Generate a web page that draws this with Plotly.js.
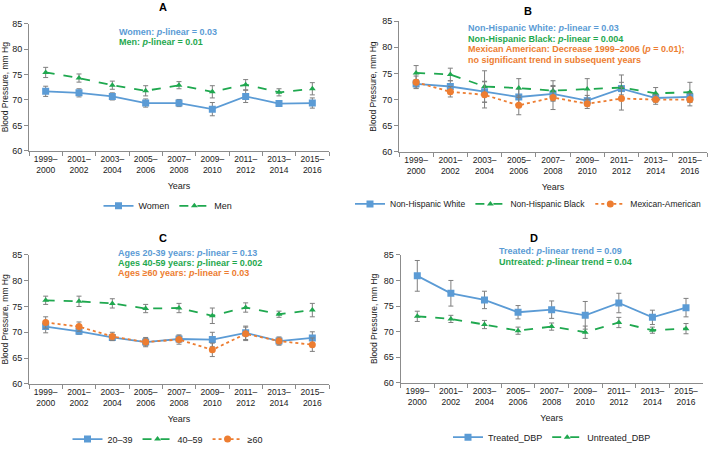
<!DOCTYPE html>
<html>
<head>
<meta charset="utf-8">
<script src="https://cdn.plot.ly/plotly-3.0.1.min.js"></script>
<style>html,body{margin:0;padding:0;background:#fff;}#chart{width:709px;height:454px;}</style>
</head>
<body>
<div id="chart"></div>
<script>
// ---- data ----
const years = ["1999–<br>2000","2001–<br>2002","2003–<br>2004","2005–<br>2006","2007–<br>2008","2009–<br>2010","2011–<br>2012","2013–<br>2014","2015–<br>2016"];

// Panel A: sex
const women = [71.7, 71.4, 70.7, 69.4, 69.4, 68.2, 70.7, 69.3, 69.4];
const womenErr = [1.0, 0.8, 0.7, 0.8, 0.7, 1.3, 1.2, 0.5, 1.0];
const men = [75.4, 74.3, 72.9, 71.8, 72.9, 71.6, 73.0, 71.5, 72.2];
const menErr = [1.0, 0.8, 0.8, 1.0, 0.7, 1.2, 1.0, 0.7, 1.2];

// Panel B: race/ethnicity
const nhWhite = [73.0, 72.5, 71.5, 70.5, 71.1, 69.8, 72.1, 70.3, 70.5];
const nhWhiteErr = [0.8, 1.1, 2.0, 1.5, 1.4, 1.0, 1.2, 0.8, 1.0];
const nhBlack = [75.1, 74.8, 72.5, 72.2, 71.7, 72.0, 72.3, 71.2, 71.4];
const nhBlackErr = [1.4, 1.2, 3.0, 1.8, 1.9, 2.0, 2.4, 1.1, 1.9];
const mexAm = [73.3, 71.5, 70.9, 68.9, 70.4, 69.2, 70.2, 70.0, 70.0];
const mexAmErr = [1.2, 1.0, 2.5, 1.8, 2.3, 0.9, 2.2, 0.9, 1.2];

// Panel C: age
const age2039 = [71.1, 70.2, 69.0, 68.1, 68.7, 68.6, 69.9, 68.3, 68.9];
const age2039Err = [1.2, 0.6, 0.6, 0.7, 0.6, 1.4, 1.3, 0.6, 1.2];
const age4059 = [76.2, 76.0, 75.6, 74.6, 74.7, 73.2, 74.8, 73.5, 74.3];
const age4059Err = [0.8, 1.0, 0.9, 0.8, 0.9, 1.5, 0.9, 0.6, 1.3];
const age60 = [71.9, 71.1, 69.2, 68.1, 68.6, 66.6, 69.7, 68.3, 67.6];
const age60Err = [1.1, 0.9, 0.8, 0.9, 0.9, 1.3, 1.3, 0.8, 1.3];

// Panel D: treatment
const treated = [80.9, 77.5, 76.2, 73.8, 74.3, 73.2, 75.6, 72.8, 74.7];
const treatedErr = [3.0, 2.5, 1.7, 1.3, 1.7, 2.7, 1.9, 1.4, 1.8];
const untreated = [73.0, 72.5, 71.4, 70.2, 71.0, 69.9, 71.8, 70.3, 70.6];
const untreatedErr = [1.0, 0.7, 0.8, 0.7, 0.7, 1.2, 1.0, 0.6, 1.0];

// ---- styling ----
const BLUE = "#5B9BD5", GREEN = "#1FA84F", ORANGE = "#ED7D31", ERR = "#7F7F7F";
const FONT = "Liberation Sans, Arial, sans-serif";
const TXT = "#1a1a1a";

function tr(x, y, e, name, color, dash, symbol, xa, ya, legend, msize) {
  return {
    type: "scatter", mode: "lines+markers", x: x, y: y, name: name,
    xaxis: xa, yaxis: ya, legend: legend,
    line: {color: color, width: 1.8, dash: dash},
    marker: {color: color, symbol: symbol, size: msize},
    error_y: {type: "data", array: e, visible: true, color: ERR, thickness: 1, width: 2.5}
  };
}

const data = [
  tr(years, women, womenErr, "Women", BLUE, "solid", "square", "x", "y", "legend", 7),
  tr(years, men, menErr, "Men", GREEN, "dash", "triangle-up", "x", "y", "legend", 6),
  tr(years, nhWhite, nhWhiteErr, "Non-Hispanic White", BLUE, "solid", "square", "x2", "y2", "legend2", 7),
  tr(years, nhBlack, nhBlackErr, "Non-Hispanic Black", GREEN, "dash", "triangle-up", "x2", "y2", "legend2", 6),
  tr(years, mexAm, mexAmErr, "Mexican-American", ORANGE, "dot", "circle", "x2", "y2", "legend2", 7),
  tr(years, age2039, age2039Err, "20–39", BLUE, "solid", "square", "x3", "y3", "legend3", 7),
  tr(years, age4059, age4059Err, "40–59", GREEN, "dash", "triangle-up", "x3", "y3", "legend3", 6),
  tr(years, age60, age60Err, "≥60", ORANGE, "dot", "circle", "x3", "y3", "legend3", 7),
  tr(years, treated, treatedErr, "Treated_DBP", BLUE, "solid", "square", "x4", "y4", "legend4", 7),
  tr(years, untreated, untreatedErr, "Untreated_DBP", GREEN, "dash", "triangle-up", "x4", "y4", "legend4", 6)
];

function xax(domain, anchor) {
  return {
    domain: domain, anchor: anchor, type: "category", range: [-0.5, 8.5],
    showline: true, linecolor: "#8c8c8c", linewidth: 1, ticks: "outside", tickson: "boundaries",
    ticklen: 4, tickcolor: "#8c8c8c", showgrid: false, zeroline: false, tickangle: 0,
    tickfont: {family: FONT, size: 8.5, color: TXT}, fixedrange: true,
    title: {text: "Years", font: {family: FONT, size: 9, color: TXT}, standoff: 8},
    automargin: false
  };
}
function yax(domain, anchor) {
  return {
    domain: domain, anchor: anchor, range: [60, 85], dtick: 5, tick0: 60,
    showline: true, linecolor: "#8c8c8c", linewidth: 1, ticks: "outside", ticklen: 4,
    tickcolor: "#8c8c8c", showgrid: false, zeroline: false,
    tickfont: {family: FONT, size: 9, color: TXT},
    title: {text: "Blood Pressure, mm Hg", font: {family: FONT, size: 8.5, color: TXT}, standoff: 4},
    automargin: false
  };
}

function leg(x, y, xanchor) {
  return {orientation: "h", x: x, y: y, xanchor: xanchor || "center", yanchor: "middle",
    font: {family: FONT, size: 9, color: TXT}, bgcolor: "rgba(0,0,0,0)",
    tracegroupgap: 0};
}

function ann(text, x, y, color, xanchor, size) {
  return {text: text, x: x, y: y, xref: "paper", yref: "paper", xanchor: xanchor || "left",
    yanchor: "middle", showarrow: false, font: {family: FONT, size: size || 9, color: color}};
}
const py = p => 1 - p / 454, px = p => p / 709;

const legendB = leg(px(706), py(208), "right");
legendB.font.size = 8.5;

const layout = {
  width: 709, height: 454, margin: {l: 0, r: 0, t: 0, b: 0},
  paper_bgcolor: "#fff", plot_bgcolor: "#fff", font: {family: FONT},
  showlegend: true,
  xaxis: xax([px(29), px(329)], "y"),
  yaxis: yax([py(154), py(24)], "x"),
  xaxis2: xax([px(399), px(707)], "y2"),
  yaxis2: yax([py(155), py(21.5)], "x2"),
  xaxis3: xax([px(29), px(329)], "y3"),
  yaxis3: yax([py(391.7), py(260)], "x3"),
  xaxis4: xax([px(400.5), px(702.8)], "y4"),
  yaxis4: yax([py(390.7), py(260)], "x4"),
  legend: leg(px(168), py(210)),
  legend2: legendB,
  legend3: leg(px(168), py(448)),
  legend4: leg(px(552), py(446)),
  annotations: [
    ann("<b>A</b>", px(163), py(7), "#000", "center", 11),
    ann("<b>B</b>", px(528), py(11), "#000", "center", 11),
    ann("<b>C</b>", px(163), py(243), "#000", "center", 11),
    ann("<b>D</b>", px(534), py(243), "#000", "center", 11),
    ann("<b>Women: <i>p</i>-linear = 0.03</b>", px(117), py(32.7), BLUE),
    ann("<b>Men: <i>p</i>-linear = 0.01</b>", px(117), py(42.5), GREEN),
    ann("<b>Non-Hispanic White: <i>p</i>-linear = 0.03</b>", px(466), py(29), BLUE),
    ann("<b>Non-Hispanic Black: <i>p</i>-linear = 0.004</b>", px(466), py(39.5), GREEN),
    ann("<b>Mexican American: Decrease 1999–2006 (<i>p</i> = 0.01);</b>", px(466), py(50.5), ORANGE),
    ann("<b>no significant trend in subsequent years</b>", px(466), py(61), ORANGE),
    ann("<b>Ages 20-39 years: <i>p</i>-linear = 0.13</b>", px(116), py(257.7), BLUE),
    ann("<b>Ages 40-59 years: <i>p</i>-linear = 0.002</b>", px(116), py(268), GREEN),
    ann("<b>Ages ≥60 years: <i>p</i>-linear = 0.03</b>", px(116), py(278.7), ORANGE),
    ann("<b>Treated: <i>p</i>-linear trend = 0.09</b>", px(496.5), py(256.3), BLUE),
    ann("<b>Untreated: <i>p</i>-linear trend = 0.04</b>", px(496.5), py(267), GREEN)
  ]
};

Plotly.newPlot("chart", data, layout, {displayModeBar: false, staticPlot: true});
</script>
</body>
</html>
